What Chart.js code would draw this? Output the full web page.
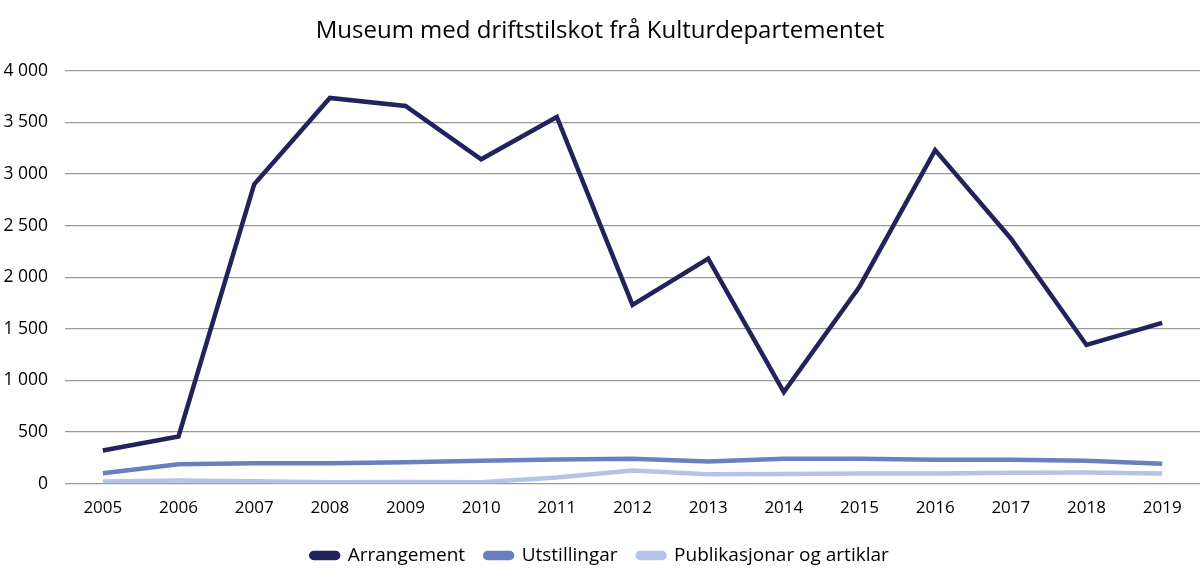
<!DOCTYPE html>
<html lang="nn">
<head>
<meta charset="UTF-8">
<title>Museum med driftstilskot frå Kulturdepartementet</title>
<script src="https://cdn.jsdelivr.net/npm/chart.js"></script>
<style>
  html, body { margin: 0; padding: 0; background: #fff; }
  #wrap { width: 1200px; height: 581px; }
</style>
</head>
<body>
<div id="wrap"><canvas id="chart"></canvas></div>
<script>
const years = ['2005','2006','2007','2008','2009','2010','2011','2012','2013','2014','2015','2016','2017','2018','2019'];
const arrangement = [321, 457, 2900, 3737, 3659, 3143, 3552, 1732, 2180, 886, 1908, 3231, 2375, 1343, 1557];
const utstillingar = [100, 188, 198, 198, 207, 221, 234, 240, 214, 240, 240, 230, 230, 221, 192];
const publikasjonar = [20, 29, 23, 13, 16, 13, 58, 127, 91, 94, 97, 97, 104, 107, 97];
const yTicks = [0, 500, 1000, 1500, 2000, 2500, 3000, 3500, 4000];

const font = "'Open Sans', 'Noto Sans', sans-serif";

function line(label, data, color) {
    return {
        label: label,
        data: data,
        borderColor: color,
        backgroundColor: color,
        borderWidth: 4.5,
        pointRadius: 0,
        tension: 0
    };
}

new Chart(document.getElementById('chart'), {
    type: 'line',
    data: {
        labels: years,
        datasets: [
            line('Arrangement', arrangement, '#23235c'),
            line('Utstillingar', utstillingar, '#6a7fbf'),
            line('Publikasjonar og artiklar', publikasjonar, '#b7c3e6')
        ]
    },
    options: {
        responsive: true,
        maintainAspectRatio: false,
        animation: false,
        layout: { padding: { left: 0, right: 0, top: 13, bottom: 6 } },
        plugins: {
            title: {
                display: true,
                text: 'Museum med driftstilskot frå Kulturdepartementet',
                color: '#000',
                font: { family: font, size: 24, weight: 'normal' },
                padding: { top: 4, bottom: 25 }
            },
            legend: {
                position: 'bottom',
                labels: {
                    color: '#000',
                    font: { family: font, size: 19 },
                    boxWidth: 27,
                    boxHeight: 5,
                    useBorderRadius: true,
                    borderRadius: 2.5,
                    padding: 20
                }
            },
            tooltip: { enabled: false }
        },
        scales: {
            x: {
                offset: true,
                grid: { display: false },
                border: { display: false },
                afterFit: function (scale) { scale.height += 2; },
                ticks: { color: '#000', font: { family: font, size: 17 }, padding: 6, maxRotation: 0 }
            },
            y: {
                min: 0,
                max: 4000,
                afterBuildTicks: function (scale) {
                    scale.ticks = yTicks.map(v => ({ value: v }));
                },
                afterFit: function (scale) { scale.width = 65; },
                grid: { color: '#9a9a9a', lineWidth: 1.3, drawTicks: false },
                border: { display: false },
                ticks: {
                    color: '#000',
                    font: { family: font, size: 17.5 },
                    padding: 17,
                    callback: v => v.toLocaleString('en-US').replace(/,/g, ' ')
                }
            }
        }
    }
});
</script>
</body>
</html>
